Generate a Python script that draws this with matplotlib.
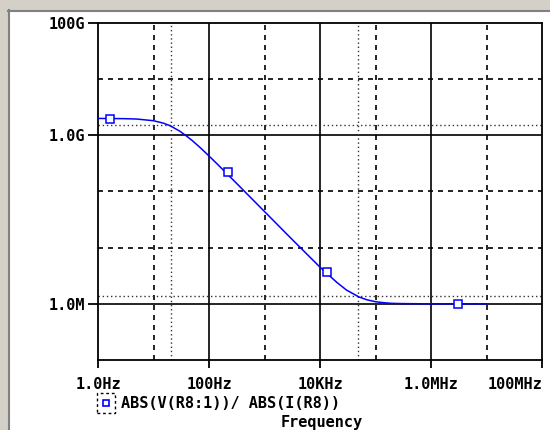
import matplotlib
matplotlib.use("Agg")
import matplotlib.pyplot as plt
from matplotlib.patches import Rectangle

# readings from the plot: |V/I| vs frequency
freq = [1, 3, 5, 10, 15, 20, 30, 40, 50, 70, 100, 150, 300, 1e3, 3e3, 1e4,
        2e4, 3e4, 5e4, 7e4, 1e5, 1.5e5, 2e5, 3e5, 1e6, 1e7]
zmag = [2.0e9, 1.98e9, 1.95e9, 1.82e9, 1.65e9, 1.48e9, 1.18e9, 9.6e8, 8.05e8,
        6.0e8, 4.29e8, 2.9e8, 1.46e8, 4.4e7, 1.47e7, 4.5e6,
        2.42e6, 1.76e6, 1.33e6, 1.18e6, 1.09e6, 1.04e6, 1.02e6, 1.01e6, 1.0e6, 1.0e6]
mark_f = [1.64, 224, 1.34e4, 3.1e6]
mark_z = [1.99e9, 2.18e8, 3.72e6, 1.0e6]

xticks = [1, 1e2, 1e4, 1e6, 1e8]
xlabels = ['1.0Hz', '100Hz', '10KHz', '1.0MHz', '100MHz']
yticks = [1e6, 1e9, 1e11]
ylabels = ['1.0M', '1.0G', '100G']
x_solid = [1e2, 1e4, 1e6]
x_dash = [1e1, 1e3, 1e5, 1e7]
y_solid = [1e6, 1e9]
y_dash = [1e7, 1e8, 1e10]
cursor_x = [21, 4.8e4]
cursor_y = [1.51e9, 1.39e6]

W, H = 550, 430
fig = plt.figure(figsize=(W / 100, H / 100), dpi=100)
fig.patch.set_facecolor('white')

# window border (top and left)
fig.patches.append(Rectangle((0, 1 - 10 / H), 1, 10 / H, transform=fig.transFigure,
                             facecolor='#d4d0c8', edgecolor='none'))
fig.patches.append(Rectangle((0, 0), 8 / W, 1, transform=fig.transFigure,
                             facecolor='#d4d0c8', edgecolor='none'))
fig.add_artist(plt.Line2D([8 / W, 1], [1 - 10.5 / H] * 2, transform=fig.transFigure,
                          color='#808080', lw=1.5))
fig.add_artist(plt.Line2D([8.5 / W] * 2, [0, 1 - 10 / H], transform=fig.transFigure,
                          color='#808080', lw=1.5))

ax = fig.add_axes([98 / W, (H - 360) / H, 444 / W, 337 / H])
ax.set_xscale('log')
ax.set_yscale('log')
ax.set_xlim(1, 1e8)
ax.set_ylim(1e5, 1e11)

for x in x_solid:
    ax.axvline(x, color='black', lw=1.2)
for y in y_solid:
    ax.axhline(y, color='black', lw=1.2)
for x in x_dash:
    ax.axvline(x, color='black', lw=1.2, ls=(0, (3, 3)))
for y in y_dash:
    ax.axhline(y, color='black', lw=1.2, ls=(0, (3, 3)))
for x in cursor_x:
    ax.axvline(x, color='#333333', lw=1, ls=(0, (1, 2)))
for y in cursor_y:
    ax.axhline(y, color='#333333', lw=1, ls=(0, (1, 2)))

ax.plot(freq, zmag, color='#0000ff', lw=1.1, zorder=5)
ax.plot(mark_f, mark_z, ls='none', marker='s', ms=5.5, mfc='white',
        mec='#0000ff', mew=1.1, zorder=6)

for s in ax.spines.values():
    s.set_color('black')
    s.set_linewidth(1.3)

font = dict(family='DejaVu Sans Mono', weight='bold', size=11)
ax.minorticks_off()
ax.set_xticks(xticks)
ax.set_xticklabels(xlabels, fontdict=font)
ax.set_yticks(yticks)
ax.set_yticklabels(ylabels, fontdict=font)
ax.tick_params(axis='x', which='major', length=6, width=1.3, direction='out',
               color='black', pad=6)
ax.tick_params(axis='y', which='major', length=7, width=1.3, direction='out',
               color='black', pad=2)
ax.get_xticklabels()[-1].set_ha('right')

# legend entry
fig.patches.append(Rectangle((97 / W, (H - 413) / H), 18 / W, 20 / H,
                             transform=fig.transFigure, facecolor='none',
                             edgecolor='black', lw=1, ls=(0, (2, 2))))
fig.patches.append(Rectangle((103 / W, (H - 406) / H), 6 / W, 6 / H,
                             transform=fig.transFigure, facecolor='white',
                             edgecolor='#0000ff', lw=1.2))
fig.text(121 / W, (H - 403) / H, 'ABS(V(R8:1))/ ABS(I(R8))', va='center',
         ha='left', **font)
fig.text(322 / W, (H - 422) / H, 'Frequency', va='center', ha='center', **font)

fig.savefig('out.png', dpi=100)
